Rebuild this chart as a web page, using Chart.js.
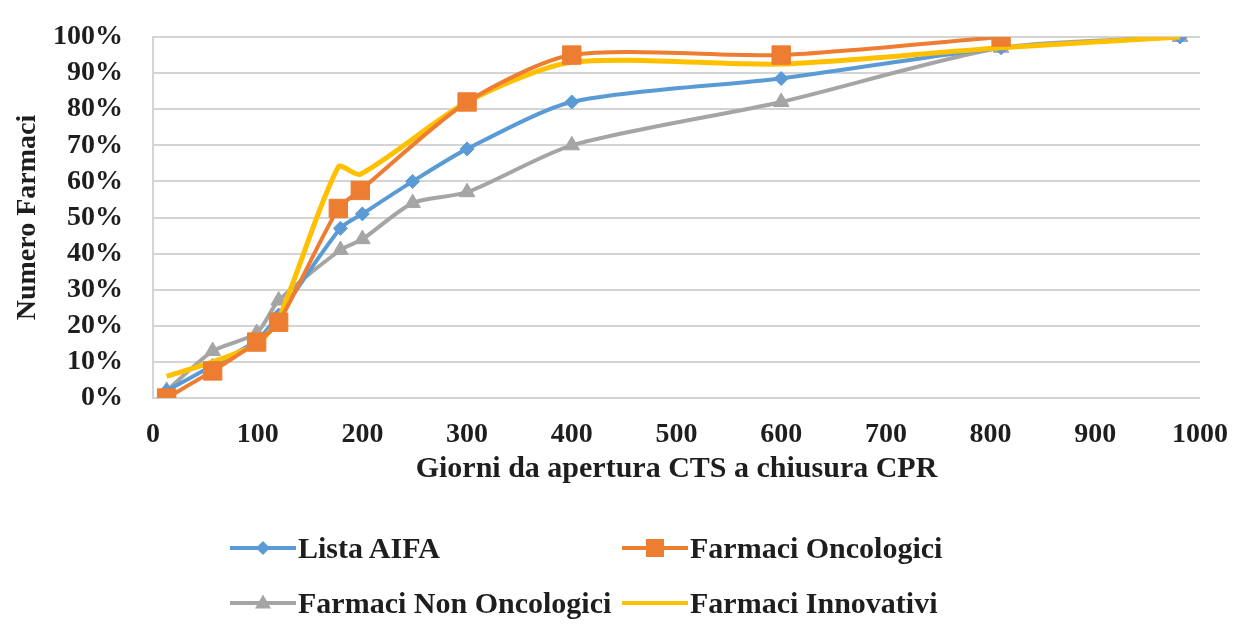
<!DOCTYPE html>
<html>
<head>
<meta charset="utf-8">
<script src="https://cdn.jsdelivr.net/npm/chart.js@4/dist/chart.umd.min.js"></script>
<style>
  html, body { margin: 0; padding: 0; background: #ffffff; }
  #wrap { position: relative; width: 1258px; height: 634px; }
  #c { position: absolute; left: 0; top: 0; }
  #legend { position: absolute; left: 0; top: 0; width: 1258px; height: 634px; pointer-events: none;
            font-family: "Liberation Serif", "Times New Roman", serif; font-weight: bold; font-size: 30px; color: #1e1e1e; }
  .item { position: absolute; display: flex; align-items: center; height: 36px; }
  .sample { position: relative; width: 66px; height: 36px; margin-right: 2px; }
  .sample .ln { position: absolute; left: 0; right: 0; top: 16px; height: 4px; }
  .sample .mk { position: absolute; left: 50%; top: 18px; }
</style>
</head>
<body>
<div id="wrap">
  <canvas id="c" width="1258" height="634"></canvas>
  <div id="legend"></div>
</div>
<script>
// ---- data ----
const seriesNames = ["Lista AIFA", "Farmaci Oncologici", "Farmaci Non Oncologici", "Farmaci Innovativi"];

const aifaDays  = [13, 57, 99, 120, 179, 200, 248, 300, 400, 600, 810, 981];
const aifaPct   = [2, 9, 16, 23, 47, 51, 60, 69, 82, 88.5, 97, 100];

const oncoDays  = [13, 57, 99, 120, 177, 198, 300, 400, 600, 810];
const oncoPct   = [0, 7.5, 15.5, 21, 52.5, 57.5, 82, 95, 95, 100];

const nonOncoDays = [13, 57, 99, 120, 179, 200, 248, 300, 400, 600, 810, 981];
const nonOncoPct  = [2, 13, 18, 27, 41, 44, 54, 57, 70, 82, 97, 100];

const innoDays  = [13, 57, 99, 120, 177, 198, 300, 400, 600, 810, 981];
const innoPct   = [6, 10, 15, 22, 64, 62, 82, 93, 92.5, 97, 100];

const xTitle = "Giorni da apertura CTS a chiusura CPR";
const yTitle = "Numero Farmaci";

// ---- build ----
function pts(xs, ys) { return xs.map((x, i) => ({ x: x, y: ys[i] })); }

const colors = ["#5B9BD5", "#ED7D31", "#A5A5A5", "#FFC000"];
const markers = ["rectRot", "rect", "triangle", false];
const radii = [7, 13, 9, 0];
const widths = [4, 4, 4, 5];
const orders = [3, 1, 4, 2];
const dataSets = [pts(aifaDays, aifaPct), pts(oncoDays, oncoPct), pts(nonOncoDays, nonOncoPct), pts(innoDays, innoPct)];

const datasets = seriesNames.map((name, i) => ({
  label: name,
  data: dataSets[i],
  borderColor: colors[i],
  backgroundColor: colors[i],
  borderWidth: widths[i],
  pointStyle: markers[i],
  pointRadius: radii[i],
  pointBorderWidth: 1,
  pointBackgroundColor: colors[i],
  pointBorderColor: colors[i],
  tension: 0.25,
  order: orders[i],
  fill: false
}));

const FONT = "'Liberation Serif', 'Times New Roman', serif";

new Chart(document.getElementById('c'), {
  type: 'line',
  data: { datasets: datasets },
  options: {
    responsive: false,
    animation: false,
    layout: { padding: { top: 37, right: 58, left: 0, bottom: 143 } },
    plugins: { legend: { display: false }, tooltip: { enabled: false } },
    scales: {
      x: {
        type: 'linear', min: 0, max: 1000,
        ticks: { stepSize: 100, padding: 20, autoSkip: false, color: '#1e1e1e', font: { family: FONT, size: 28, weight: 'bold' }, maxRotation: 0, callback: (v) => String(v) },
        grid: { display: false, drawTicks: false },
        border: { display: false },
        title: { display: true, text: xTitle, color: '#1e1e1e', padding: { top: 0, bottom: 4 }, font: { family: FONT, size: 30, weight: 'bold' } },
        afterFit: (s) => { s.height = 93; s.paddingLeft = 0; s.paddingRight = 0; }
      },
      y: {
        min: 0, max: 100,
        ticks: { stepSize: 10, padding: 30, autoSkip: false, color: '#1e1e1e', font: { family: FONT, size: 28, weight: 'bold' }, callback: (v) => v + '%' },
        grid: { color: '#d4d4d4', lineWidth: 2, drawTicks: false },
        border: { display: true, color: '#d4d4d4', width: 2 },
        title: { display: true, text: yTitle, color: '#1e1e1e', padding: { top: 11, bottom: 0 }, font: { family: FONT, size: 28, weight: 'bold' } },
        afterFit: (s) => { s.width = 153; s.paddingTop = 0; s.paddingBottom = 0; }
      }
    }
  }
});

// ---- HTML legend built from the datasets ----
const legendPos = [[230, 530], [622, 530], [230, 585], [622, 585]];
const leg = document.getElementById('legend');
seriesNames.forEach((name, i) => {
  const it = document.createElement('div');
  it.className = 'item';
  it.style.left = legendPos[i][0] + 'px';
  it.style.top = legendPos[i][1] + 'px';
  const sm = document.createElement('div');
  sm.className = 'sample';
  const ln = document.createElement('div');
  ln.className = 'ln';
  ln.style.background = colors[i];
  sm.appendChild(ln);
  if (markers[i]) {
    const mk = document.createElement('div');
    mk.className = 'mk';
    if (markers[i] === 'rect') {
      mk.style.width = '18px'; mk.style.height = '18px'; mk.style.background = colors[i];
      mk.style.transform = 'translate(-50%,-50%)';
    } else if (markers[i] === 'rectRot') {
      mk.style.width = '10px'; mk.style.height = '10px'; mk.style.background = colors[i];
      mk.style.transform = 'translate(-50%,-50%) rotate(45deg)';
    } else {
      mk.style.width = '0'; mk.style.height = '0';
      mk.style.borderLeft = '8px solid transparent'; mk.style.borderRight = '8px solid transparent';
      mk.style.borderBottom = '14px solid ' + colors[i];
      mk.style.transform = 'translate(-50%,-60%)';
    }
    sm.appendChild(mk);
  }
  it.appendChild(sm);
  const tx = document.createElement('span');
  tx.textContent = name;
  it.appendChild(tx);
  leg.appendChild(it);
});
</script>
</body>
</html>
